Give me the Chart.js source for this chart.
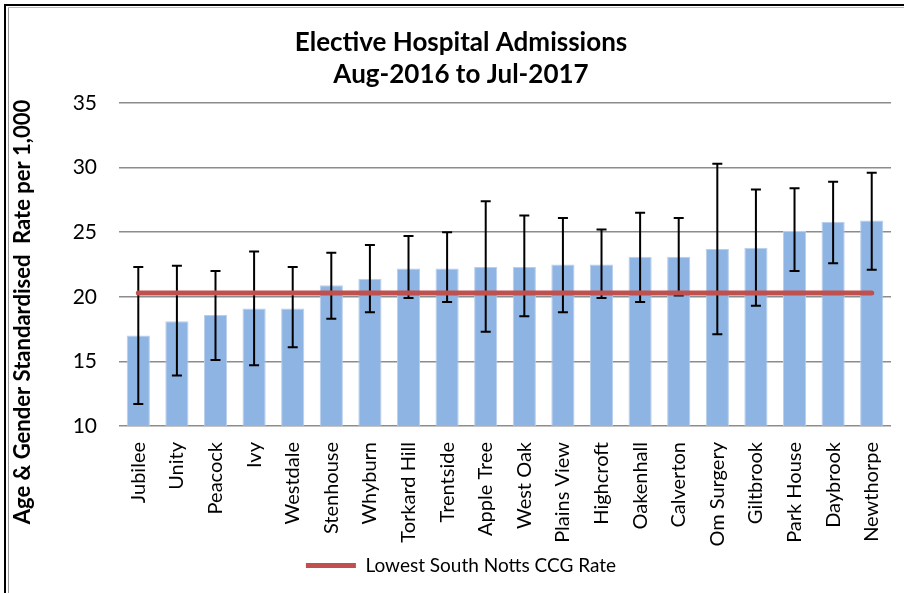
<!DOCTYPE html>
<html>
<head>
<meta charset="utf-8">
<script src="https://cdn.jsdelivr.net/npm/chart.js@4/dist/chart.umd.min.js"></script>
<style>
  html, body { margin: 0; padding: 0; background: #fff; }
  #wrap { position: relative; width: 904px; height: 593px; overflow: hidden; }
  .edge { position: absolute; }
</style>
</head>
<body>
<div id="wrap">
  <canvas id="admissions" width="904" height="593"></canvas>
  <div class="edge" style="left:4px;top:4px;width:900px;height:2px;background:#000"></div>
  <div class="edge" style="left:4px;top:4px;width:2px;height:589px;background:#000"></div>
  <div class="edge" style="left:8px;top:7px;width:1px;height:586px;background:#999"></div>
  <div class="edge" style="left:8px;top:7px;width:896px;height:1px;background:#bbb"></div>
</div>
<script>
const practices = ['Jubilee', 'Unity', 'Peacock', 'Ivy', 'Westdale', 'Stenhouse', 'Whyburn',
  'Torkard Hill', 'Trentside', 'Apple Tree', 'West Oak', 'Plains View', 'Highcroft',
  'Oakenhall', 'Calverton', 'Om Surgery', 'Giltbrook', 'Park House', 'Daybrook', 'Newthorpe'];
const rates = [17.0, 18.1, 18.6, 19.1, 19.1, 20.9, 21.4, 22.2, 22.2, 22.3, 22.3, 22.5, 22.5,
  23.1, 23.1, 23.7, 23.8, 25.1, 25.8, 25.9];
const upperCI = [22.3, 22.4, 22.0, 23.5, 22.3, 23.4, 24.0, 24.7, 25.0, 27.4, 26.3, 26.1, 25.2,
  26.5, 26.1, 30.3, 28.3, 28.4, 28.9, 29.6];
const lowerCI = [11.7, 13.9, 15.1, 14.7, 16.1, 18.3, 18.8, 19.9, 19.6, 17.3, 18.5, 18.8, 19.9,
  19.6, 20.1, 17.1, 19.3, 22.0, 22.6, 22.1];
const lowestRate = [20.3, 20.3, 20.3, 20.3, 20.3, 20.3, 20.3, 20.3, 20.3, 20.3, 20.3, 20.3,
  20.3, 20.3, 20.3, 20.3, 20.3, 20.3, 20.3, 20.3];
const yTicks = [10, 15, 20, 25, 30, 35];

const FONT = 'Lato, "Open Sans", sans-serif';

// error bars on top of the blue bars, under the red line
const errorBars = {
  id: 'errorBars',
  afterDatasetDraw(chart, args) {
    if (args.index !== 0) return;
    const ctx = chart.ctx;
    const y = chart.scales.y;
    ctx.save();
    ctx.strokeStyle = '#000';
    ctx.lineWidth = 2;
    args.meta.data.forEach((bar, i) => {
      const top = y.getPixelForValue(upperCI[i]);
      const bot = y.getPixelForValue(lowerCI[i]);
      ctx.beginPath();
      ctx.moveTo(bar.x, top); ctx.lineTo(bar.x, bot);
      ctx.moveTo(bar.x - 5, top); ctx.lineTo(bar.x + 5, top);
      ctx.moveTo(bar.x - 5, bot); ctx.lineTo(bar.x + 5, bot);
      ctx.stroke();
    });
    ctx.restore();
  }
};

// y axis title sits lower than the scale centre in the original
const yTitle = {
  id: 'yTitle',
  afterDraw(chart) {
    const ctx = chart.ctx;
    ctx.save();
    ctx.translate(23, 312);
    ctx.rotate(-Math.PI / 2);
    ctx.font = 'bold 22px ' + FONT;
    ctx.fillStyle = '#000';
    ctx.textAlign = 'center';
    ctx.textBaseline = 'middle';
    ctx.fillText('Age & Gender Standardised  Rate per 1,000', 0, 0);
    ctx.restore();
  }
};

new Chart(document.getElementById('admissions'), {
  type: 'bar',
  data: {
    labels: practices,
    datasets: [
      {
        label: 'Rate',
        data: rates,
        backgroundColor: '#8EB4E3',
        borderColor: '#B8CEEA',
        borderWidth: 1,
        barPercentage: 0.6,
        categoryPercentage: 1,
        order: 1
      },
      {
        type: 'line',
        label: 'Lowest South Notts CCG Rate',
        data: lowestRate,
        borderColor: '#C0504D',
        backgroundColor: '#C0504D',
        borderWidth: 5,
        borderCapStyle: 'round',
        pointRadius: 0,
        fill: false,
        order: 0
      }
    ]
  },
  options: {
    responsive: false,
    animation: false,
    layout: { padding: { left: 29, right: 11, top: 0, bottom: 8 } },
    plugins: {
      title: {
        display: true,
        text: ['Elective Hospital Admissions', 'Aug-2016 to Jul-2017'],
        color: '#000',
        font: { family: FONT, size: 26, weight: 'bold', lineHeight: '32px' },
        padding: { top: 27, bottom: 12 }
      },
      legend: {
        position: 'bottom',
        labels: {
          filter: item => item.datasetIndex === 1,
          usePointStyle: true,
          pointStyle: 'line',
          pointStyleWidth: 50,
          color: '#000',
          font: { family: FONT, size: 19 },
          padding: 7
        }
      },
      tooltip: { enabled: false }
    },
    scales: {
      x: {
        grid: { display: false },
        border: { display: false },
        ticks: {
          autoSkip: false,
          maxRotation: 90,
          minRotation: 90,
          padding: 8,
          color: '#000',
          font: { family: FONT, size: 20 }
        },
        afterFit(scale) { scale.height = 123; }
      },
      y: {
        min: 10,
        max: 35,
        afterBuildTicks(scale) { scale.ticks = yTicks.map(v => ({ value: v })); },
        grid: { color: '#8c8c8c', lineWidth: 1.5, drawTicks: false },
        border: { display: false },
        ticks: {
          padding: 22,
          color: '#000',
          font: { family: FONT, size: 21 }
        },
        afterFit(scale) { scale.width = 90; }
      }
    }
  },
  plugins: [errorBars, yTitle]
});
</script>
</body>
</html>
